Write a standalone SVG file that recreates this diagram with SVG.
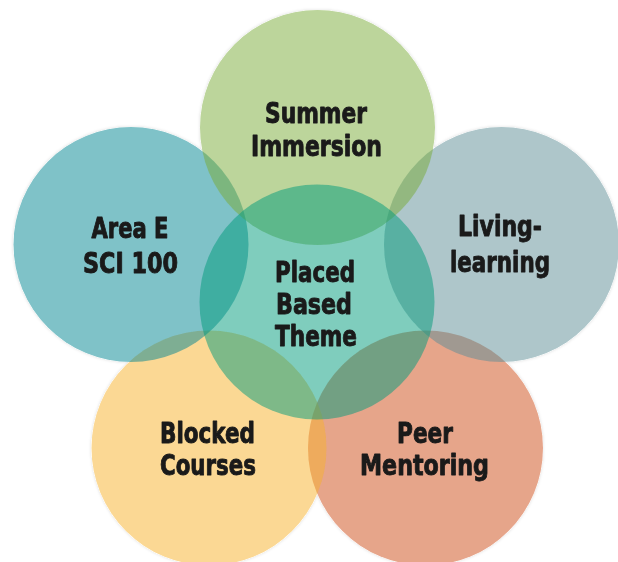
<svg xmlns="http://www.w3.org/2000/svg" width="618" height="562" viewBox="0 0 618 562">
  <style>
    .c { opacity: 0.5; }
    .t { font-family: "DejaVu Sans Condensed", "DejaVu Sans", "Liberation Sans", sans-serif; font-stretch: condensed; font-weight: 700; font-size: 29px; fill: #1a1a1a; stroke: #1a1a1a; stroke-width: 0.9; stroke-linejoin: round; text-anchor: middle; }
  </style>
  <defs>
    <filter id="halo" x="-5%" y="-5%" width="110%" height="110%">
      <feComponentTransfer in="SourceAlpha" result="solid">
        <feFuncA type="linear" slope="20"/>
      </feComponentTransfer>
      <feGaussianBlur in="solid" stdDeviation="1.5" result="blur"/>
      <feComposite in="blur" in2="solid" operator="out" result="edge"/>
      <feFlood flood-color="#000" flood-opacity="0.12"/>
      <feComposite in2="edge" operator="in" result="shadow"/>
      <feMerge>
        <feMergeNode in="shadow"/>
        <feMergeNode in="SourceGraphic"/>
      </feMerge>
    </filter>
  </defs>
  <rect width="618" height="562" fill="#ffffff"/>
  <g id="circles" filter="url(#halo)">
    <g id="peer-mentoring-circle"><circle class="c" cx="425.5" cy="448" r="117.5" fill="#cd4b19"/></g>
    <g id="blocked-courses-circle"><circle class="c" cx="209" cy="448" r="117.5" fill="#f7b12b"/></g>
    <g id="area-e-circle"><circle class="c" cx="131" cy="244.5" r="117.5" fill="#018591"/></g>
    <g id="living-learning-circle"><circle class="c" cx="501.5" cy="244.5" r="117.5" fill="#5b8d95"/></g>
    <g id="summer-immersion-circle"><circle class="c" cx="317.5" cy="127.5" r="117.5" fill="#79ab37"/></g>
    <g id="placed-based-theme-circle"><circle class="c" cx="317" cy="302" r="117.5" fill="#019b7b"/></g>
  </g>
  <g id="connectors"></g>
  <g id="summer-immersion">
    <text class="t" x="316" y="123" textLength="102" lengthAdjust="spacingAndGlyphs">Summer</text>
    <text class="t" x="316.5" y="156" textLength="131" lengthAdjust="spacingAndGlyphs">Immersion</text>
  </g>
  <g id="area-e">
    <text class="t" x="130" y="238" textLength="77" lengthAdjust="spacingAndGlyphs">Area E</text>
    <text class="t" x="130.5" y="273" textLength="95" lengthAdjust="spacingAndGlyphs">SCI 100</text>
  </g>
  <g id="living-learning">
    <text class="t" x="500" y="236" textLength="84" lengthAdjust="spacingAndGlyphs">Living-</text>
    <text class="t" x="500" y="272" textLength="100" lengthAdjust="spacingAndGlyphs">learning</text>
  </g>
  <g id="placed-based-theme">
    <text class="t" x="315" y="282" textLength="80" lengthAdjust="spacingAndGlyphs">Placed</text>
    <text class="t" x="314" y="314" textLength="76" lengthAdjust="spacingAndGlyphs">Based</text>
    <text class="t" x="316" y="346" textLength="82" lengthAdjust="spacingAndGlyphs">Theme</text>
  </g>
  <g id="blocked-courses">
    <text class="t" x="207.5" y="443" textLength="95" lengthAdjust="spacingAndGlyphs">Blocked</text>
    <text class="t" x="208" y="475" textLength="96" lengthAdjust="spacingAndGlyphs">Courses</text>
  </g>
  <g id="peer-mentoring">
    <text class="t" x="425" y="443" textLength="56" lengthAdjust="spacingAndGlyphs">Peer</text>
    <text class="t" x="424.5" y="475" textLength="129" lengthAdjust="spacingAndGlyphs">Mentoring</text>
  </g>
</svg>
